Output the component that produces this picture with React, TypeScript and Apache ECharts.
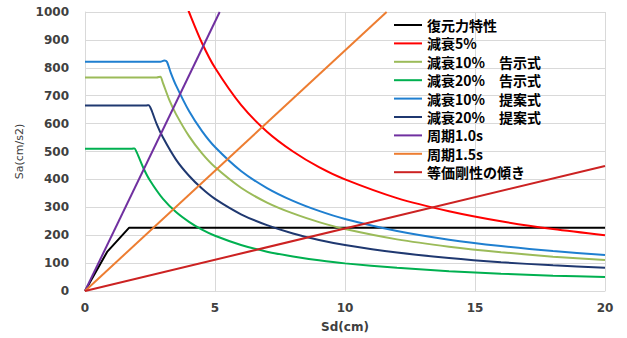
import React, { useEffect, useRef } from "react";
import * as echarts from "echarts";

// Legend names
const seriesNames = [
  "復元力特性",
  "減衰5%",
  "減衰10%　告示式",
  "減衰20%　告示式",
  "減衰10%　提案式",
  "減衰20%　提案式",
  "周期1.0s",
  "周期1.5s",
  "等価剛性の傾き",
];

const seriesColors = [
  "#000000",
  "#FF0000",
  "#9BBB59",
  "#00B050",
  "#1F7FD0",
  "#1F3870",
  "#7030A0",
  "#ED7D31",
  "#CC2222",
];

// [Sd(cm), Sa(cm/s2)]
const restoringForce = [[0, 0], [0.85, 140], [1.7, 227], [20, 227]];

const damping5 = [
  [3.9, 1026], [4, 1000], [4.5, 889], [5, 800], [6, 667], [7, 571], [8, 500], [9, 444],
  [10, 400], [12, 333], [14, 286], [16, 250], [18, 222], [20, 200],
];

const damping10Notice = [
  [0, 765], [2.75, 765], [2.9, 768], [3.0, 745], [3.25, 683], [3.5, 634], [4, 555], [4.5, 493],
  [5, 444], [6, 370], [7, 317], [8, 278], [9, 247], [10, 222], [12, 185], [14, 159], [16, 139],
  [18, 123], [20, 111],
];

const damping20Notice = [
  [0, 510], [1.8, 510], [1.9, 511], [2.0, 495], [2.25, 440], [2.5, 396], [3, 330], [3.5, 283],
  [4, 248], [4.5, 220], [5, 198], [6, 165], [7, 141], [8, 124], [9, 110], [10, 99], [12, 83],
  [14, 71], [16, 62], [18, 55], [20, 50],
];

const damping10Proposal = [
  [0, 822], [2.9, 822], [3.05, 826], [3.15, 822], [3.3, 782], [3.5, 737], [4, 645], [4.5, 573],
  [5, 516], [6, 430], [7, 369], [8, 323], [9, 287], [10, 258], [12, 215], [14, 184], [16, 161],
  [18, 143], [20, 129],
];

const damping20Proposal = [
  [0, 665], [2.35, 665], [2.45, 666], [2.55, 650], [2.75, 600], [3, 550], [3.5, 471], [4, 413],
  [4.5, 367], [5, 330], [6, 275], [7, 236], [8, 206], [9, 183], [10, 165], [12, 138], [14, 118],
  [16, 103], [18, 92], [20, 83],
];

const period10 = [[0, 0], [5.18, 1000]];
const period15 = [[0, 0], [11.6, 1000]];
const equivStiffness = [[0, 0], [20, 448]];

const seriesData = [
  restoringForce,
  damping5,
  damping10Notice,
  damping20Notice,
  damping10Proposal,
  damping20Proposal,
  period10,
  period15,
  equivStiffness,
];

const smoothFlags = [false, 0.3, 0.25, 0.25, 0.25, 0.25, false, false, false];

export default function App() {
  const ref = useRef<HTMLDivElement>(null);

  useEffect(() => {
    if (!ref.current) return;
    const chart = echarts.init(ref.current, undefined, { renderer: "svg" });
    const axisFont = {
      fontFamily: "DejaVu Sans",
      fontWeight: "bold" as const,
      fontSize: 12,
      color: "#404040",
    };
    chart.setOption({
      animation: false,
      backgroundColor: "#ffffff",
      grid: { left: 85, right: 22, top: 12, bottom: 46, containLabel: false },
      legend: {
        orient: "vertical",
        left: 389,
        top: 13,
        icon: "rect",
        itemWidth: 28,
        itemHeight: 2,
        itemGap: 4.4,
        data: seriesNames,
        textStyle: {
          fontFamily: "Noto Sans CJK JP",
          fontWeight: "bold",
          fontSize: 14,
          lineHeight: 14,
          color: "#000000",
        },
      },
      xAxis: {
        type: "value",
        min: 0,
        max: 20,
        interval: 5,
        name: "Sd(cm)",
        nameLocation: "middle",
        nameGap: 30,
        nameTextStyle: { ...axisFont },
        axisLine: { show: true, lineStyle: { color: "#D9D9D9", width: 1 } },
        axisTick: { show: false },
        axisLabel: { ...axisFont, margin: 11 },
        splitLine: { show: true, lineStyle: { color: "#D9D9D9", width: 1 } },
      },
      yAxis: {
        type: "value",
        min: 0,
        max: 1000,
        interval: 100,
        name: "Sa(cm/s2)",
        nameLocation: "middle",
        nameGap: 48,
        nameTextStyle: {
          fontFamily: "DejaVu Sans",
          fontSize: 11,
          color: "#404040",
        },
        axisLine: { show: true, lineStyle: { color: "#D9D9D9", width: 1 } },
        axisTick: { show: false },
        axisLabel: { ...axisFont, margin: 16, formatter: (v: number) => String(v) },
        splitLine: { show: true, lineStyle: { color: "#D9D9D9", width: 1 } },
      },
      series: seriesNames.map((name, i) => ({
        name,
        type: "line",
        data: seriesData[i],
        smooth: smoothFlags[i],
        symbol: "none",
        clip: true,
        lineStyle: { color: seriesColors[i], width: 2 },
        itemStyle: { color: seriesColors[i] },
      })),
    });
    return () => chart.dispose();
  }, []);

  return (
    <div
      ref={ref}
      style={{ position: "fixed", left: 0, top: 0, width: 627, height: 338 }}
    />
  );
}
